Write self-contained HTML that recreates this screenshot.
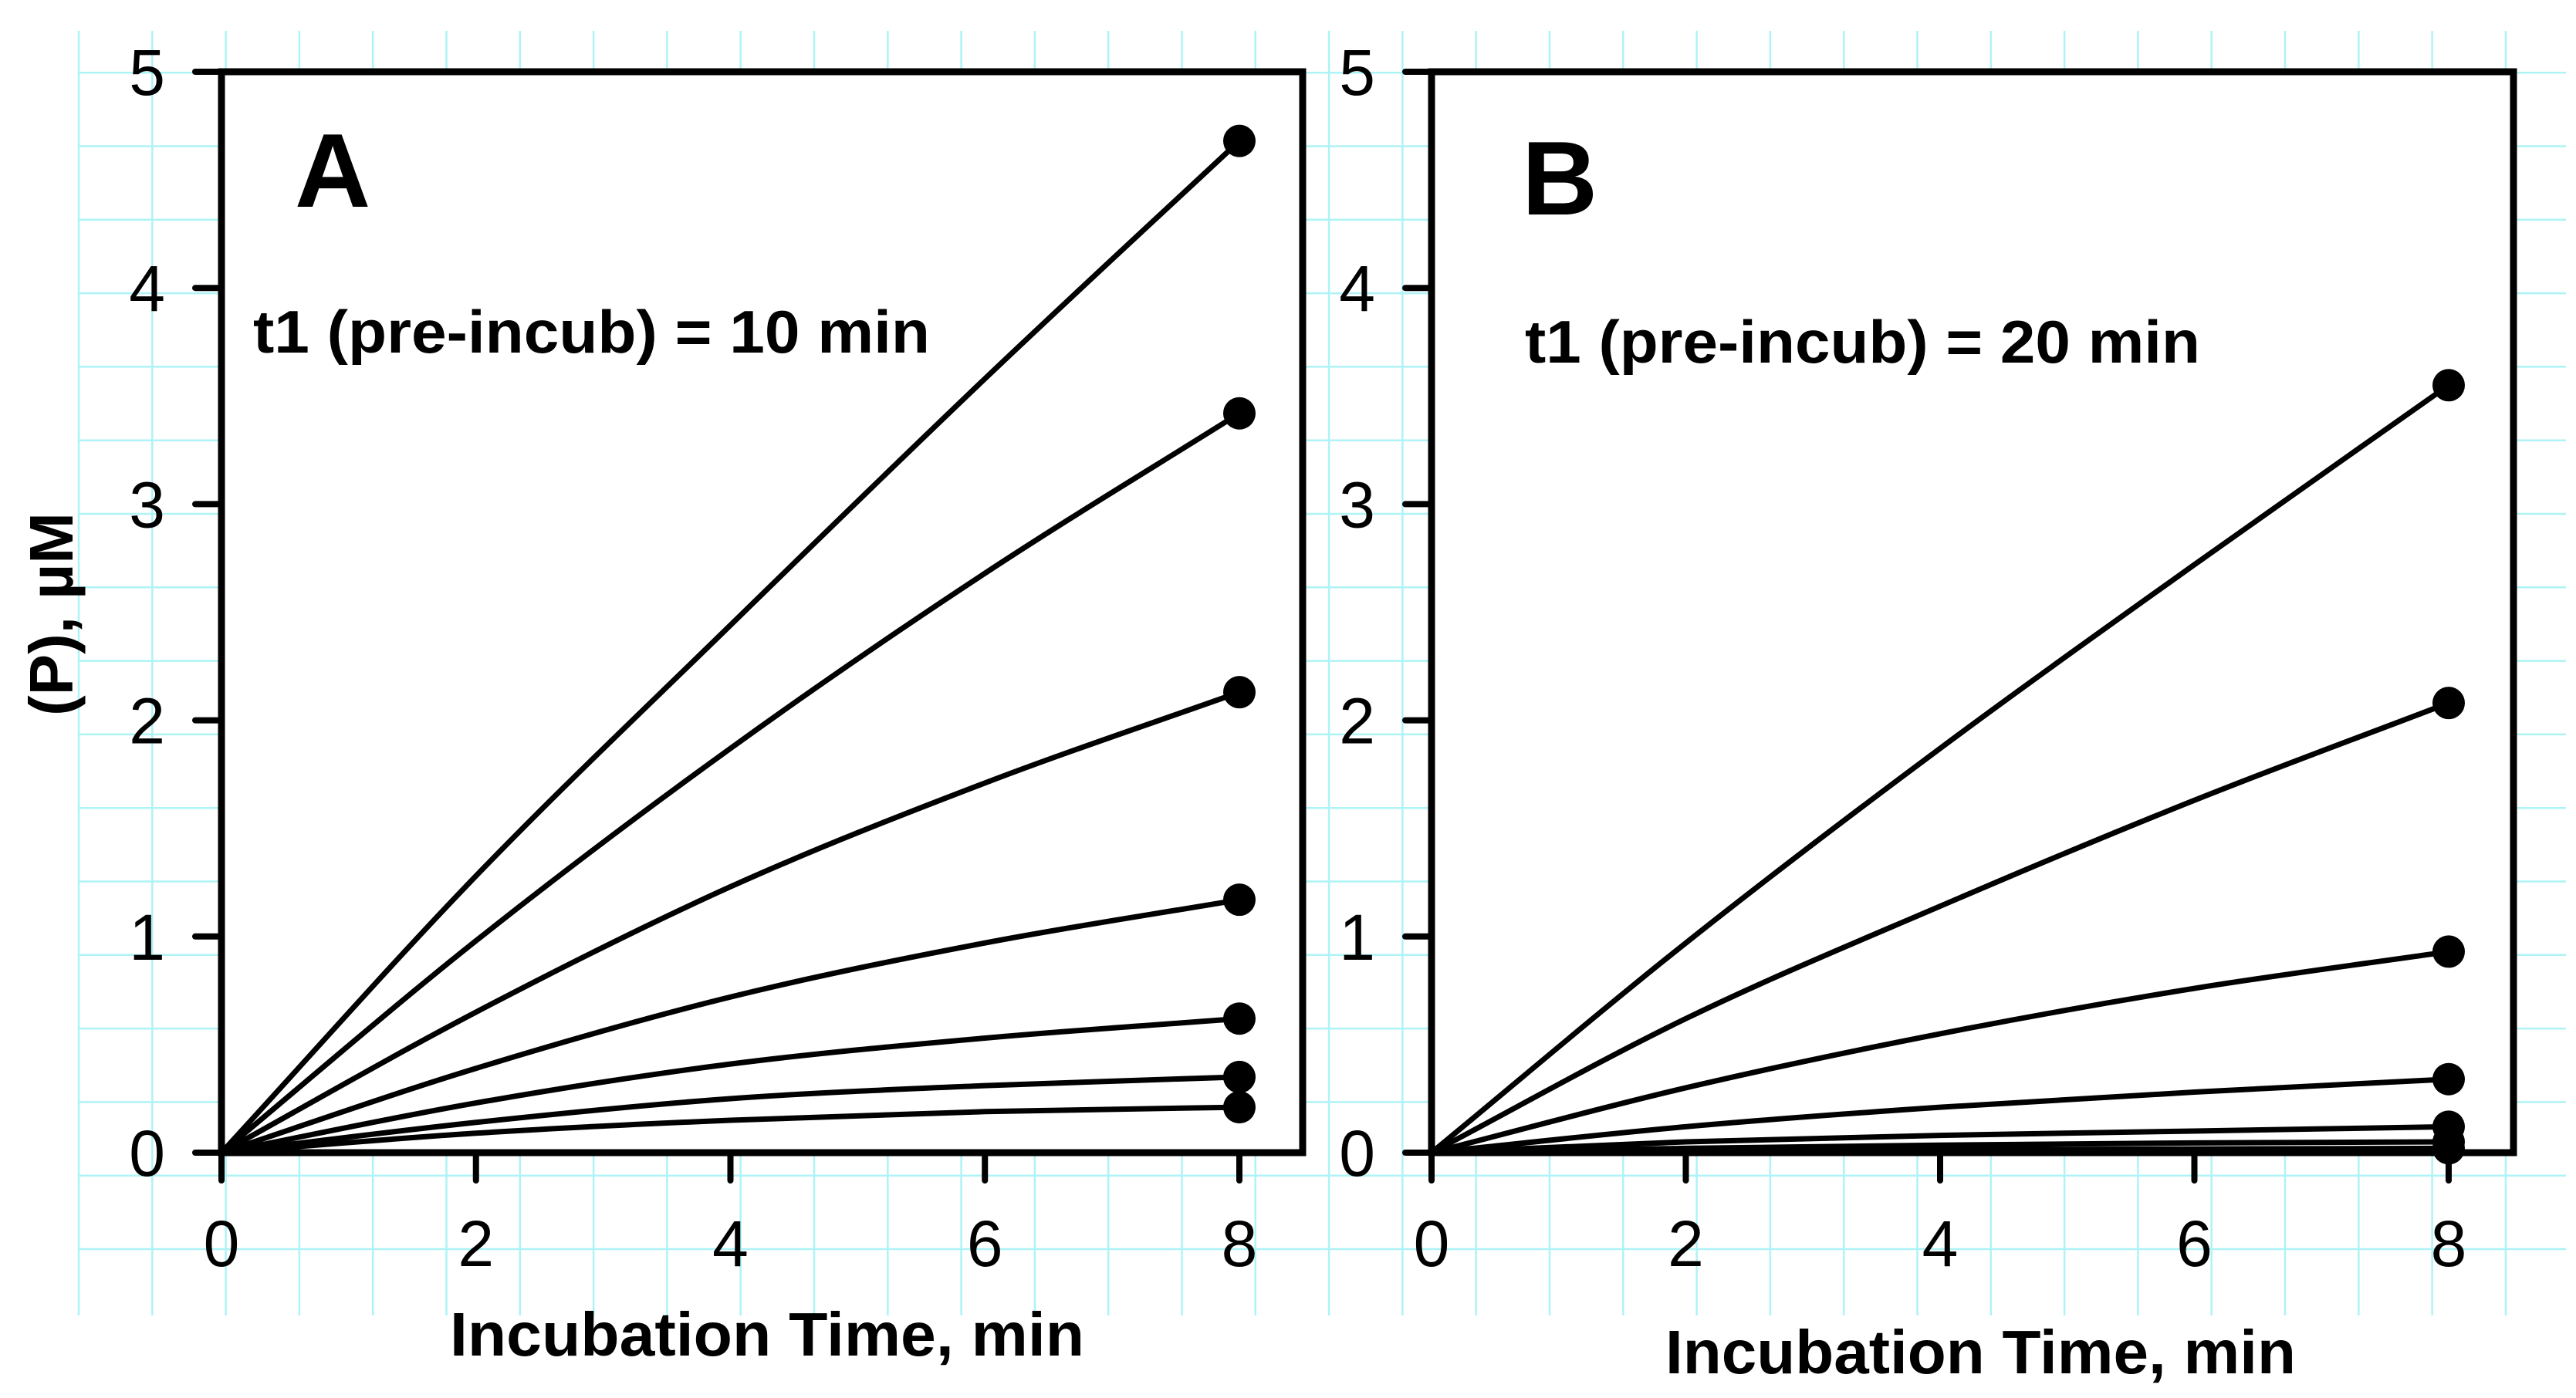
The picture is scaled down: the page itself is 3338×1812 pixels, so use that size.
<!DOCTYPE html>
<html><head><meta charset="utf-8">
<style>
html,body{margin:0;padding:0;background:#fff;}
svg{display:block;font-family:"Liberation Sans",Arial,sans-serif;}
</style></head>
<body>
<svg id="chart" width="3338" height="1812" viewBox="0 0 3338 1812" xmlns="http://www.w3.org/2000/svg">
  <g id="grid"></g>
  <g id="panelA"></g>
  <g id="panelB"></g>
  <text x="0" y="0" transform="translate(94,796) rotate(-90)" text-anchor="middle" font-size="80" font-weight="bold">(P), µM</text>
</svg>
<script>
// ---- data ----
const timePoints = [0, 2, 4, 6, 8];
const xTicks = [0, 2, 4, 6, 8];
const yTicks = [0, 1, 2, 3, 4, 5];
// Panel A: t1 = 10 min
const seriesA1 = [0, 1.28, 2.44, 3.58, 4.68];
const seriesA2 = [0, 0.98, 1.87, 2.68, 3.42];
const seriesA3 = [0, 0.65, 1.23, 1.71, 2.13];
const seriesA4 = [0, 0.39, 0.72, 0.97, 1.17];
const seriesA5 = [0, 0.23, 0.41, 0.53, 0.62];
const seriesA6 = [0, 0.14, 0.25, 0.31, 0.35];
const seriesA7 = [0, 0.09, 0.15, 0.19, 0.21];
// Panel B: t1 = 20 min
const seriesB1 = [0, 0.97, 1.87, 2.72, 3.55];
const seriesB2 = [0, 0.62, 1.14, 1.63, 2.08];
const seriesB3 = [0, 0.30, 0.55, 0.76, 0.93];
const seriesB4 = [0, 0.12, 0.21, 0.28, 0.34];
const seriesB5 = [0, 0.05, 0.08, 0.10, 0.12];
const seriesB6 = [0, 0.02, 0.035, 0.045, 0.05];
const seriesB7 = [0, 0.008, 0.013, 0.017, 0.02];

const NS = "http://www.w3.org/2000/svg";
function mk(tag, attrs, parent){
  const e = document.createElementNS(NS, tag);
  for (const k in attrs) e.setAttribute(k, attrs[k]);
  parent.appendChild(e);
  return e;
}

// ---- background grid ----
const grid = document.getElementById('grid');
for (let x = 102; x <= 3330; x += 95.3) {
  const l = mk('line', {x1:x, y1:40, x2:x, y2:1705, stroke:'#aef3f6', 'stroke-width':2.5}, grid);
  
  
}
for (let y = 1619; y >= 35; y -= 95.3) {
  const l = mk('line', {x1:102, y1:y, x2:3325, y2:y, stroke:'#aef3f6', 'stroke-width':2.5}, grid);
  
  
}

// monotone cubic (Fritsch-Carlson) path
function monoPath(pts){
  const n = pts.length, d = [], m = new Array(n);
  for (let i = 0; i < n - 1; i++) d.push((pts[i+1][1] - pts[i][1]) / (pts[i+1][0] - pts[i][0]));
  m[0] = d[0]; m[n-1] = d[n-2];
  for (let i = 1; i < n - 1; i++) m[i] = (d[i-1] * d[i] <= 0) ? 0 : (d[i-1] + d[i]) / 2;
  for (let i = 0; i < n - 1; i++) {
    if (d[i] === 0) { m[i] = 0; m[i+1] = 0; continue; }
    const a = m[i] / d[i], b = m[i+1] / d[i], s = a*a + b*b;
    if (s > 9) { const t = 3 / Math.sqrt(s); m[i] = t*a*d[i]; m[i+1] = t*b*d[i]; }
  }
  let p = 'M' + pts[0][0] + ',' + pts[0][1];
  for (let i = 0; i < n - 1; i++) {
    const h = (pts[i+1][0] - pts[i][0]) / 3;
    p += ' C' + (pts[i][0] + h) + ',' + (pts[i][1] + m[i]*h) + ' ' + (pts[i+1][0] - h) + ',' + (pts[i+1][1] - m[i+1]*h) + ' ' + pts[i+1][0] + ',' + pts[i+1][1];
  }
  return p;
}

function drawPanel(g, cfg, seriesList){
  const xs = v => cfg.x0 + (cfg.x8 - cfg.x0) * v / 8;
  const ys = v => cfg.y0 - (cfg.y0 - cfg.y5) * v / 5;
  const fr = mk('rect', {x:cfg.x0, y:cfg.y5, width:cfg.xr - cfg.x0, height:cfg.y0 - cfg.y5, fill:'#fff', stroke:'#000', 'stroke-width':9}, g);
  
  
  yTicks.forEach(v => {
    const t = mk('line', {x1:cfg.x0 - 34, y1:ys(v), x2:cfg.x0, y2:ys(v), stroke:'#000', 'stroke-width':8, 'stroke-linecap':'round'}, g);
    
    
    const lb = mk('text', {x:cfg.x0 - 73, y:ys(v) + 30, 'text-anchor':'end', 'font-size':84}, g);
    lb.textContent = v;
    
    
  });
  xTicks.forEach(v => {
    const t = mk('line', {x1:xs(v), y1:cfg.y0, x2:xs(v), y2:cfg.y0 + 36, stroke:'#000', 'stroke-width':8, 'stroke-linecap':'round'}, g);
    
    
    const lb = mk('text', {x:xs(v), y:1641, 'text-anchor':'middle', 'font-size':84}, g);
    lb.textContent = v;
    
    
  });
  seriesList.forEach(vals => {
    const pts = timePoints.map((t, i) => [xs(t), ys(vals[i])]);
    const p = mk('path', {d:monoPath(pts), fill:'none', stroke:'#000', 'stroke-width':7, 'stroke-linejoin':'round'}, g);
    
    
    const last = timePoints.length - 1;
    const c = mk('circle', {cx:xs(timePoints[last]), cy:ys(vals[last]), r:21, fill:'#000'}, g);
    
    
  });
  const L = mk('text', {x:cfg.letterX, y:cfg.letterY, 'font-size':136, 'font-weight':'bold'}, g);
  L.textContent = cfg.letter;
  
  
  const n = mk('text', {x:cfg.noteX, y:cfg.noteY, 'font-size':78, 'font-weight':'bold', textLength:cfg.noteW, lengthAdjust:'spacingAndGlyphs'}, g);
  n.textContent = cfg.note;
  
  
  const xt = mk('text', {x:cfg.titleX, y:cfg.titleY, 'font-size':80, 'font-weight':'bold', textLength:cfg.titleW, lengthAdjust:'spacingAndGlyphs'}, g);
  xt.textContent = 'Incubation Time, min';
  
  
}

drawPanel(document.getElementById('panelA'),
  {x0:287, x8:1606, xr:1688, y0:1494, y5:93, letter:'A', letterX:382, letterY:268,
   note:'t1 (pre-incub) = 10 min', noteX:328, noteY:457, noteW:877,
   titleX:583, titleY:1757, titleW:822},
  [seriesA1, seriesA2, seriesA3, seriesA4, seriesA5, seriesA6, seriesA7]);
drawPanel(document.getElementById('panelB'),
  {x0:1855, x8:3173, xr:3257, y0:1494, y5:93, letter:'B', letterX:1972, letterY:278,
   note:'t1 (pre-incub) = 20 min', noteX:1976, noteY:470, noteW:875,
   titleX:2158, titleY:1780, titleW:817},
  [seriesB1, seriesB2, seriesB3, seriesB4, seriesB5, seriesB6, seriesB7]);
</script>
</body></html>
